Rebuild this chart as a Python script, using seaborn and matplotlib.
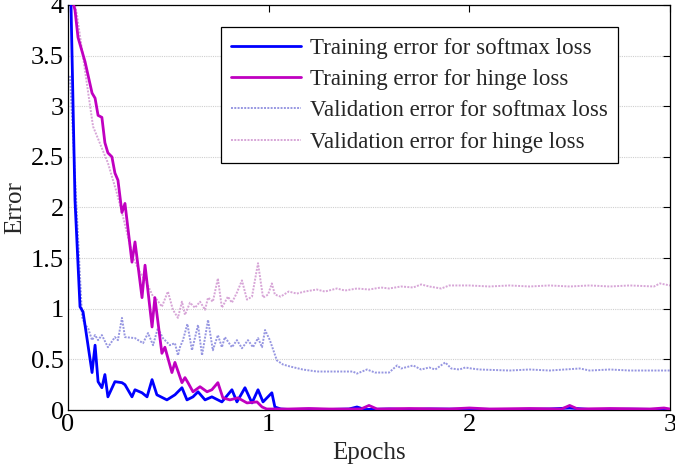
import matplotlib
matplotlib.use("Agg")
import matplotlib.pyplot as plt
import seaborn as sns
import numpy as np

# ---- data ----
train_soft_x = [0.01, 0.035, 0.06, 0.075, 0.12, 0.135, 0.15, 0.169, 0.184, 0.199, 0.234, 0.269, 0.284,
                0.319, 0.334, 0.369, 0.394, 0.419, 0.443, 0.493, 0.533, 0.568, 0.593, 0.623, 0.648,
                0.683, 0.717, 0.767, 0.817, 0.842, 0.882, 0.917, 0.947, 0.972, 1.016, 1.031, 1.06,
                1.1, 1.2, 1.3, 1.4, 1.44, 1.48, 1.6, 1.7, 1.8, 2.0, 2.2, 2.4, 2.5, 2.6, 2.8, 3.0]
train_soft_y = [4.5, 2.07, 1.02, 0.97, 0.37, 0.64, 0.28, 0.22, 0.35, 0.13, 0.28, 0.27, 0.25,
                0.13, 0.2, 0.17, 0.13, 0.30, 0.15, 0.10, 0.15, 0.22, 0.10, 0.13, 0.18,
                0.10, 0.13, 0.08, 0.20, 0.08, 0.22, 0.07, 0.20, 0.08, 0.17, 0.03, 0.01,
                0.005, 0.008, 0.005, 0.01, 0.03, 0.005, 0.01, 0.005, 0.01, 0.008, 0.005, 0.01, 0.02, 0.005, 0.008, 0.005]

train_hinge_x = [0.015, 0.035, 0.05, 0.085, 0.12, 0.135, 0.15, 0.169, 0.184, 0.199, 0.219, 0.234, 0.249,
                 0.269, 0.284, 0.319, 0.334, 0.369, 0.384, 0.419, 0.433, 0.468, 0.483, 0.518, 0.533,
                 0.568, 0.583, 0.598, 0.623, 0.658, 0.693, 0.717, 0.747, 0.772, 0.807, 0.847, 0.892,
                 0.942, 0.967, 0.99, 1.1, 1.2, 1.3, 1.46, 1.5, 1.54, 1.7, 1.9, 2.0, 2.1, 2.3, 2.46,
                 2.5, 2.54, 2.7, 2.9, 2.97, 3.0]
train_hinge_y = [4.1, 3.95, 3.68, 3.44, 3.13, 3.08, 2.91, 2.89, 2.64, 2.54, 2.5, 2.34, 2.27,
                 1.95, 2.04, 1.46, 1.66, 1.11, 1.43, 0.82, 1.11, 0.56, 0.62, 0.37, 0.47,
                 0.27, 0.32, 0.27, 0.18, 0.23, 0.18, 0.2, 0.27, 0.12, 0.10, 0.12, 0.07,
                 0.08, 0.03, 0.01, 0.01, 0.015, 0.01, 0.01, 0.045, 0.01, 0.015, 0.01, 0.02, 0.01, 0.015, 0.01,
                 0.045, 0.01, 0.015, 0.01, 0.02, 0.01]

val_soft_x = [0.01, 0.07, 0.085, 0.10, 0.12, 0.135, 0.15, 0.169, 0.199, 0.234, 0.249, 0.269, 0.284,
              0.334, 0.374, 0.399, 0.424, 0.448, 0.473, 0.508, 0.533, 0.548, 0.558, 0.573, 0.595,
              0.618, 0.648, 0.668, 0.698, 0.722, 0.747, 0.767, 0.782, 0.817, 0.842, 0.867, 0.897,
              0.922, 0.947, 0.967, 0.982, 1.006, 1.041, 1.071, 1.106, 1.17, 1.24, 1.35, 1.42, 1.44,
              1.49, 1.53, 1.6, 1.64, 1.66, 1.72, 1.76, 1.8, 1.83, 1.88, 1.91, 1.95, 1.98, 2.01,
              2.05, 2.2, 2.3, 2.4, 2.55, 2.6, 2.7, 2.8, 2.9, 3.0]
val_soft_y = [3.3, 0.92, 0.84, 0.81, 0.69, 0.74, 0.69, 0.74, 0.62, 0.72, 0.69, 0.91, 0.72,
              0.71, 0.66, 0.76, 0.64, 0.81, 0.71, 0.64, 0.66, 0.54, 0.62, 0.69, 0.85,
              0.59, 0.84, 0.54, 0.89, 0.59, 0.74, 0.62, 0.72, 0.62, 0.69, 0.61, 0.69,
              0.62, 0.71, 0.62, 0.79, 0.69, 0.49, 0.45, 0.43, 0.40, 0.38, 0.38, 0.38, 0.36,
              0.40, 0.37, 0.37, 0.44, 0.41, 0.44, 0.40, 0.42, 0.40, 0.47, 0.41, 0.40, 0.42, 0.41,
              0.40, 0.39, 0.40, 0.39, 0.41, 0.39, 0.40, 0.39, 0.39, 0.39]

val_hinge_x = [0.02, 0.045, 0.125, 0.199, 0.244, 0.269, 0.294, 0.324, 0.359, 0.394, 0.424, 0.443,
               0.468, 0.498, 0.523, 0.548, 0.568, 0.583, 0.608, 0.633, 0.658, 0.683, 0.698, 0.722,
               0.747, 0.767, 0.797, 0.817, 0.842, 0.867, 0.892, 0.917, 0.947, 0.972, 0.997, 1.016,
               1.031, 1.06, 1.10, 1.14, 1.18, 1.24, 1.28, 1.34, 1.38, 1.44, 1.5, 1.56, 1.6, 1.66,
               1.72, 1.76, 1.8, 1.86, 1.9, 2.0, 2.1, 2.2, 2.3, 2.4, 2.5, 2.6, 2.7, 2.8, 2.92, 2.95, 3.0]
val_hinge_y = [4.15, 3.9, 2.8, 2.44, 2.14, 1.95, 1.75, 1.51, 1.36, 1.25, 1.12, 1.09,
               1.02, 1.17, 0.99, 0.91, 1.07, 0.94, 1.06, 1.01, 1.07, 0.99, 1.11, 1.07,
               1.30, 1.01, 1.12, 1.06, 1.16, 1.28, 1.09, 1.12, 1.45, 1.11, 1.14, 1.25,
               1.14, 1.12, 1.17, 1.15, 1.17, 1.19, 1.17, 1.20, 1.18, 1.20, 1.19, 1.21, 1.20, 1.22,
               1.21, 1.24, 1.22, 1.20, 1.23, 1.23, 1.22, 1.23, 1.22, 1.23, 1.22, 1.23, 1.22, 1.23, 1.22, 1.25, 1.23]

labels = ["Training error for softmax loss", "Training error for hinge loss",
          "Validation error for softmax loss", "Validation error for hinge loss"]
yticks = [0, 0.5, 1, 1.5, 2, 2.5, 3, 3.5, 4]
ytick_labels = ["0", "0.5", "1", "1.5", "2", "2.5", "3", "3.5", "4"]
xticks = [0, 1, 2, 3]

sns.set_style("white")
plt.rcParams['font.family'] = ['Liberation Serif', 'DejaVu Serif']
plt.rcParams['mathtext.fontset'] = 'stix'

fig = plt.figure(figsize=(6.75, 4.71), dpi=100)
ax = fig.add_axes([0.1007, 0.1295, 0.8919, 0.8599])

dot = (0, (1, 0.7))
sns.lineplot(x=val_soft_x, y=val_soft_y, ax=ax, color="#8484dc", lw=1.4, linestyle=dot,
             label=labels[2], alpha=0.85, zorder=2)
sns.lineplot(x=val_hinge_x, y=val_hinge_y, ax=ax, color="#d096d0", lw=1.4, linestyle=dot,
             label=labels[3], alpha=0.85, zorder=2)
sns.lineplot(x=train_soft_x, y=train_soft_y, ax=ax, color="#0000ff", lw=2.0,
             label=labels[0], zorder=3)
sns.lineplot(x=train_hinge_x, y=train_hinge_y, ax=ax, color="#c000c0", lw=2.0,
             label=labels[1], zorder=3)

ax.set_xlim(0, 3)
ax.set_ylim(0, 4)
ax.set_xticks(xticks)
ax.set_xticklabels([str(t) for t in xticks])
ax.set_yticks(yticks)
ax.set_yticklabels(ytick_labels)
ax.yaxis.grid(True, color="#cfcfcf", linestyle=(0, (1, 1)), lw=0.8)
ax.xaxis.grid(False)
ax.set_axisbelow(True)
ax.tick_params(direction="in", top=True, right=True, length=5, width=0.8,
               labelsize=19, colors="black", pad=3)
for s in ax.spines.values():
    s.set_color("black")
    s.set_linewidth(0.9)
ax.set_xlabel("Epochs", fontsize=18, labelpad=4)
ax.set_ylabel("Error", fontsize=18, labelpad=3)

h, l = ax.get_legend_handles_labels()
order = [l.index(x) for x in labels]
leg = ax.legend([h[i] for i in order], [l[i] for i in order], loc="upper right",
                bbox_to_anchor=(0.914, 0.945), borderaxespad=0, fontsize=16.5, handlelength=3.05,
                frameon=True, fancybox=False, edgecolor="black", framealpha=1,
                borderpad=0.45, labelspacing=0.45, handletextpad=0.4)
leg.get_frame().set_linewidth(0.9)

fig.savefig("out.png", dpi=100)
